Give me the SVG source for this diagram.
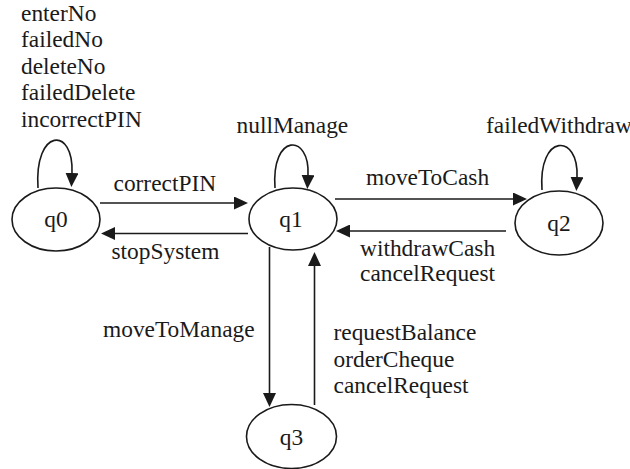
<svg xmlns="http://www.w3.org/2000/svg" width="630" height="469" viewBox="0 0 630 469">
  <style>
    .node ellipse { fill: #ffffff; stroke: #1a1a1a; stroke-width: 1.6; }
    text { font-family: "Liberation Serif", "Times New Roman", serif; font-size: 23.4px; fill: #1a1a1a; }
    .node text { text-anchor: middle; }
    .edge { fill: none; stroke: #1a1a1a; stroke-width: 1.6; marker-end: url(#arrow); }
  </style>
  <defs>
    <marker id="arrow" viewBox="0 0 14 13" refX="0" refY="6.5" markerWidth="14" markerHeight="13" markerUnits="userSpaceOnUse" orient="auto">
      <path d="M0,0 L14,6.5 L0,13 Z" fill="#1a1a1a"/>
    </marker>
  </defs>
  <rect width="630" height="469" fill="#ffffff"/>

  <!-- connectors (each line ends at the base of its arrowhead) -->
  <g id="connectors">
    <path class="edge" d="M38,188 C34,128 74,126 72,173"/>
    <path class="edge" d="M275,188 C271,133 310,133 308,175"/>
    <path class="edge" d="M542,190 C538,133 579,133 577,177"/>
    <path class="edge" d="M100,203 L234,203"/>
    <path class="edge" d="M248,233.5 L115,233.5"/>
    <path class="edge" d="M335,199 L513,199"/>
    <path class="edge" d="M506,231 L350,231"/>
    <path class="edge" d="M269.5,247 L269.5,393"/>
    <path class="edge" d="M314.5,405 L314.5,266"/>
  </g>

  <!-- connector labels -->
  <g id="labels">
    <text x="21" y="20.7">enterNo</text>
    <text x="21" y="47.2">failedNo</text>
    <text x="21" y="73.7">deleteNo</text>
    <text x="21" y="100.2">failedDelete</text>
    <text x="21" y="126.7">incorrectPIN</text>
    <text x="236.5" y="133">nullManage</text>
    <text x="486" y="133">failedWithdraw</text>
    <text x="113.5" y="190.7">correctPIN</text>
    <text x="111.5" y="259.3">stopSystem</text>
    <text x="366" y="185">moveToCash</text>
    <text x="360" y="256">withdrawCash</text>
    <text x="360" y="281">cancelRequest</text>
    <text x="103" y="336.7">moveToManage</text>
    <text x="333.5" y="340">requestBalance</text>
    <text x="333.5" y="366.7">orderCheque</text>
    <text x="333.5" y="393.3">cancelRequest</text>
  </g>

  <g id="q0" class="node">
    <ellipse cx="56" cy="219.5" rx="44" ry="31.5"/>
    <text x="56" y="226.5">q0</text>
  </g>
  <g id="q1" class="node">
    <ellipse cx="293" cy="219" rx="44" ry="31"/>
    <text x="291" y="226.5">q1</text>
  </g>
  <g id="q2" class="node">
    <ellipse cx="559" cy="223" rx="44" ry="32"/>
    <text x="559" y="230.5">q2</text>
  </g>
  <g id="q3" class="node">
    <ellipse cx="291.5" cy="436.5" rx="45" ry="32"/>
    <text x="291.5" y="444.5">q3</text>
  </g>
</svg>
